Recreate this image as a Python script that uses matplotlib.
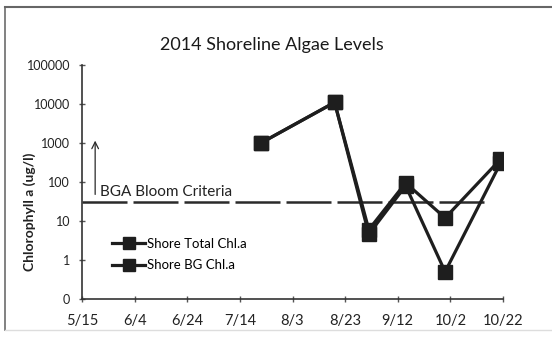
import matplotlib
matplotlib.use("Agg")
import matplotlib.pyplot as plt
from matplotlib.lines import Line2D
import pandas as pd

plt.rcParams['font.family'] = ['Lato', 'DejaVu Sans']

# Shoreline sampling dates and chlorophyll a readings (ug/l)
sample_dates = pd.to_datetime(["2014-07-22", "2014-08-19", "2014-09-01",
                               "2014-09-15", "2014-09-30", "2014-10-21"])
total_chla = [1000, 11000, 6, 95, 12, 380]
bg_chla = [1000, 11000, 4.6, 80, 0.5, 300]

# Blue-green algae bloom criterion
criteria_value = 30
criteria_span = pd.to_datetime(["2014-05-15", "2014-10-16"])

tick_dates = pd.to_datetime(["2014-05-15", "2014-06-04", "2014-06-24", "2014-07-14",
                             "2014-08-03", "2014-08-23", "2014-09-12", "2014-10-02",
                             "2014-10-22"])
tick_labels = ["5/15", "6/4", "6/24", "7/14", "8/3", "8/23", "9/12", "10/2", "10/22"]
y_ticks = [0.1, 1, 10, 100, 1000, 10000, 100000]
y_labels = ["0", "1", "10", "100", "1000", "10000", "100000"]

fig = plt.figure(figsize=(5.52, 3.37), dpi=100)
ax = fig.add_axes([82/552, 1 - 299/337, 421/552, 234/337])

line_color = "#1e1e1e"
ax.plot(sample_dates, total_chla, color=line_color, lw=2.3, marker='s',
        ms=9.5, label="Shore Total Chl.a", zorder=3)
ax.plot(sample_dates, bg_chla, color=line_color, lw=2.3, marker='s',
        ms=9.5, label="Shore BG Chl.a", zorder=3)

ax.plot(criteria_span, [criteria_value, criteria_value], color="#2a2a2a",
        lw=1.8, dashes=(18, 2.4), zorder=2)

ax.annotate("", xy=(pd.Timestamp("2014-05-20"), 1150),
            xytext=(pd.Timestamp("2014-05-20"), 48),
            arrowprops=dict(arrowstyle="->", color="#2a2a2a", lw=0.9,
                            shrinkA=0, shrinkB=0, mutation_scale=12))
ax.text(pd.Timestamp("2014-05-22"), 56, "BGA Bloom Criteria", fontsize=11,
        color="#222222", va='center', ha='left')

ax.set_yscale('log')
ax.set_ylim(0.1, 100000)
ax.set_yticks(y_ticks)
ax.set_yticklabels(y_labels)
ax.yaxis.set_minor_locator(matplotlib.ticker.NullLocator())
ax.set_xlim(tick_dates[0], tick_dates[-1])
ax.set_xticks(tick_dates)
ax.set_xticklabels(tick_labels)

for s in ['top', 'right']:
    ax.spines[s].set_visible(False)
for s in ['left', 'bottom']:
    ax.spines[s].set_color("#333333")
    ax.spines[s].set_linewidth(1.2)
ax.tick_params(axis='y', direction='inout', length=5, width=1, colors="#555555",
               labelcolor="#222222", labelsize=9, pad=6)
ax.tick_params(axis='x', direction='inout', length=5, width=1, colors="#555555",
               labelcolor="#222222", labelsize=10.5, pad=8)

ax.set_ylabel("Chlorophyll a (ug/l)", fontsize=10, fontweight='bold',
              color="#222222")
ax.yaxis.set_label_coords(-0.109, 0.372)

fig.text(272/552, 1 - 45/337, "2014 Shoreline Algae Levels", fontsize=13,
         ha='center', va='center', color="#1a1a1a")

ax.legend(loc='center left', bbox_to_anchor=(0.072, 0.19), frameon=False,
          borderpad=0, borderaxespad=0, handlelength=2.5, handletextpad=0.1,
          labelspacing=0.75, fontsize=9.5, markerscale=0.9)

# Outer chart border
fig.add_artist(Line2D([5/552, 5/552], [1 - 7/337, 1 - 330/337],
                      transform=fig.transFigure, color="#777777", lw=1.3))
fig.add_artist(Line2D([5/552, 1], [1 - 7/337, 1 - 7/337],
                      transform=fig.transFigure, color="#666666", lw=1.5))
fig.add_artist(Line2D([5/552, 1], [1 - 330/337, 1 - 330/337],
                      transform=fig.transFigure, color="#dddddd", lw=1.0))

fig.savefig("out.png", dpi=100)
